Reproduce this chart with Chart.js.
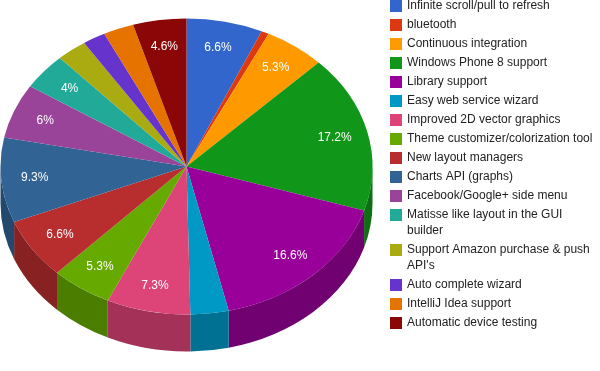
<!DOCTYPE html>
<html>
<head>
<meta charset="utf-8">
<style>html,body{margin:0;padding:0;background:#fff}canvas{display:block}</style>
<script src="https://cdn.jsdelivr.net/npm/chart.js@4"></script>
</head>
<body>
<canvas id="c" width="600" height="371"></canvas>
<script>
const categories = ["Infinite scroll/pull to refresh","bluetooth","Continuous integration","Windows Phone 8 support","Library support","Easy web service wizard","Improved 2D vector graphics","Theme customizer/colorization tool","New layout managers","Charts API (graphs)","Facebook/Google+ side menu","Matisse like layout in the GUI builder","Support Amazon purchase & push API's","Auto complete wizard","IntelliJ Idea support","Automatic device testing"];
const values = [10,1,8,26,25,5,11,8,10,14,9,6,4,3,4,7];
const colors = ["#3366cc","#dc3912","#ff9900","#109618","#990099","#0099c6","#dd4477","#66aa00","#b82e2e","#316395","#994499","#22aa99","#aaaa11","#6633cc","#e67300","#8b0707"];
const sideColors = colors.map(h=>{const n=parseInt(h.slice(1),16);const f=0.74;return `rgb(${Math.round((n>>16)*f)},${Math.round(((n>>8)&255)*f)},${Math.round((n&255)*f)})`;});

const RX = 186, RY = 148, DEPTH = 37, LABEL_FRAC = 0.82, MIN_LABEL = 3.5;
const FONT = '12px "Liberation Sans", Arial, sans-serif';

const pie3d = {
  id: 'pie3d',
  beforeDatasetsDraw(chart) {
    const ctx = chart.ctx, arcs = chart.getDatasetMeta(0).data;
    const cx = arcs[0].x, cy = arcs[0].y;
    arcs.forEach((a, i) => {
      const s = Math.max(a.startAngle, 0), e = Math.min(a.endAngle, Math.PI);
      if (e <= s) return;
      ctx.beginPath();
      ctx.ellipse(cx, cy, RX, RY, 0, s, e);
      ctx.ellipse(cx, cy + DEPTH, RX, RY, 0, e, s, true);
      ctx.closePath();
      ctx.fillStyle = sideColors[i];
      ctx.fill();
    });
    ctx.save();
    ctx.translate(cx, cy);
    ctx.scale(1, RY / RX);
    ctx.translate(-cx, -cy);
  },
  afterDatasetsDraw(chart) {
    const ctx = chart.ctx, arcs = chart.getDatasetMeta(0).data;
    ctx.restore();
    const cx = arcs[0].x, cy = arcs[0].y;
    const total = values.reduce((p, q) => p + q, 0);
    ctx.save();
    ctx.font = FONT;
    ctx.fillStyle = '#fff';
    ctx.textAlign = 'center';
    ctx.textBaseline = 'middle';
    arcs.forEach((a, i) => {
      const pct = values[i] / total * 100;
      if (pct < MIN_LABEL) return;
      const m = (a.startAngle + a.endAngle) / 2;
      const txt = String(parseFloat(pct.toFixed(1))) + '%';
      ctx.fillText(txt, cx + Math.cos(m) * RX * LABEL_FRAC, cy + Math.sin(m) * RY * LABEL_FRAC);
    });
    ctx.restore();
  },
  afterDraw(chart) {
    const ctx = chart.ctx;
    ctx.save();
    ctx.font = FONT;
    ctx.textAlign = 'left';
    ctx.textBaseline = 'middle';
    let y = 0;
    categories.forEach((name, i) => {
      ctx.fillStyle = colors[i];
      ctx.fillRect(390, y, 12, 12);
      ctx.fillStyle = '#222';
      const lines = [];
      let cur = '';
      name.split(' ').forEach(w => {
        const t = cur ? cur + ' ' + w : w;
        if (ctx.measureText(t).width > 193 && cur) { lines.push(cur); cur = w; } else cur = t;
      });
      lines.push(cur);
      lines.forEach((l, k) => ctx.fillText(l, 407, y + 6 + k * 16));
      y += 19 + (lines.length - 1) * 16;
    });
    ctx.restore();
  }
};

new Chart(document.getElementById('c'), {
  type: 'pie',
  data: { labels: categories, datasets: [{ data: values, backgroundColor: colors, borderWidth: 0, clip: false }] },
  options: {
    responsive: false,
    animation: false,
    radius: RX,
    layout: { padding: { left: 0, top: 0, right: 227, bottom: 38 } },
    plugins: { legend: { display: false }, tooltip: { enabled: false } }
  },
  plugins: [pie3d]
});
</script>
</body>
</html>
